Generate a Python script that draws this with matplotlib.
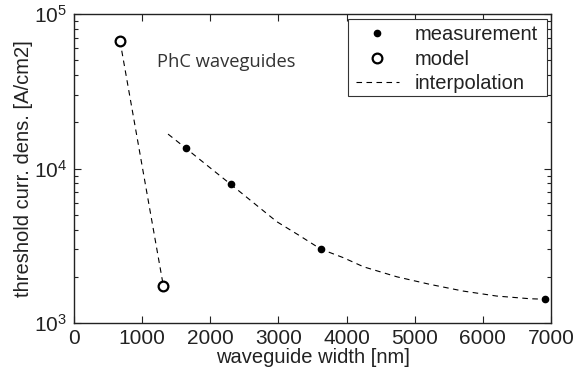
import matplotlib
matplotlib.use("Agg")
import matplotlib.pyplot as plt
from matplotlib.ticker import LogLocator, NullFormatter, FixedLocator
from matplotlib.lines import Line2D
from matplotlib.patches import Rectangle

plt.rcParams['font.family'] = ['Liberation Sans', 'DejaVu Sans']
plt.rcParams['mathtext.fontset'] = 'custom'
plt.rcParams['mathtext.rm'] = 'Liberation Sans'
plt.rcParams['mathtext.it'] = 'Liberation Sans'

# measured threshold current densities
meas_width = [1644, 2300, 3620, 6912]
meas_jth = [13500, 7900, 3010, 1425]

# modelled values
model_width = [675, 1311]
model_jth = [67000, 1740]

# smooth interpolation through the measurements
interp_width = [1380, 1644, 1950, 2300, 2975, 3300, 3620, 3950, 4250, 4740,
                5220, 5710, 6200, 6690, 6910]
interp_jth = [16700, 13500, 10500, 7900, 4530, 3700, 3010, 2650, 2310, 1990,
              1780, 1610, 1495, 1436, 1425]

x_ticks = [0, 1000, 2000, 3000, 4000, 5000, 6000, 7000]

txt = '#222222'
fs = 14.5
fig = plt.figure(figsize=(5.75, 3.77), dpi=100)
ax = fig.add_axes([0.1287, 0.1432, 0.8296, 0.8197])

dash = dict(color='black', lw=0.8, dashes=(5, 4))
ax.plot(model_width, model_jth, **dash)
ax.plot(interp_width, interp_jth, **dash)
ax.plot(meas_width, meas_jth, 'o', color='black', ms=4.5, zorder=3)
ax.plot(model_width, model_jth, 'o', mfc='white', mec='black', mew=1.6,
        ms=7, zorder=3)

ax.set_yscale('log')
ax.set_xlim(0, 7000)
ax.set_ylim(1e3, 1e5)
ax.xaxis.set_major_locator(FixedLocator(x_ticks))
ax.yaxis.set_major_locator(LogLocator(base=10, numticks=5))
ax.yaxis.set_minor_locator(LogLocator(base=10, subs=range(2, 10), numticks=20))
ax.yaxis.set_minor_formatter(NullFormatter())

ax.tick_params(which='both', direction='in', top=True, right=True,
               labelsize=15, colors=txt, width=0.8)
ax.tick_params(which='major', length=5)
ax.tick_params(which='minor', length=3)
ax.tick_params(axis='x', pad=4)
ax.tick_params(axis='y', pad=5)
for s in ax.spines.values():
    s.set_linewidth(1.0)
    s.set_color(txt)

ax.set_xlabel('waveguide width [nm]', fontsize=fs, color=txt, labelpad=0)
ax.set_ylabel('threshold curr. dens. [A/cm2]', fontsize=fs, color=txt,
              labelpad=1)

ax.text(1218, 48900, 'PhC waveguides', fontsize=13.2, color='#333333',
        family=['Open Sans', 'DejaVu Sans'], va='center')

# legend frame drawn separately so horizontal and vertical padding can differ
frame = Rectangle((0.5738, 0.7346), 0.4172, 0.2484, transform=ax.transAxes,
                  facecolor='white', edgecolor='#333333', lw=0.8, zorder=4.5)
ax.add_patch(frame)

handles = [
    Line2D([], [], ls='none', marker='o', color='black', ms=4.5),
    Line2D([], [], ls='none', marker='o', mfc='white', mec='black', mew=1.6, ms=7),
    Line2D([], [], color='black', lw=0.8, dashes=(5, 4)),
]
leg = ax.legend(handles, ['measurement', 'model', 'interpolation'],
                loc='upper right', bbox_to_anchor=(0.9727, 0.9628),
                fontsize=fs, frameon=False, borderpad=0.0,
                labelspacing=0.27, handlelength=2.1, handletextpad=0.8,
                borderaxespad=0.0)
leg.set_zorder(5)
for t in leg.get_texts():
    t.set_color(txt)

fig.savefig('out.png', dpi=100)
